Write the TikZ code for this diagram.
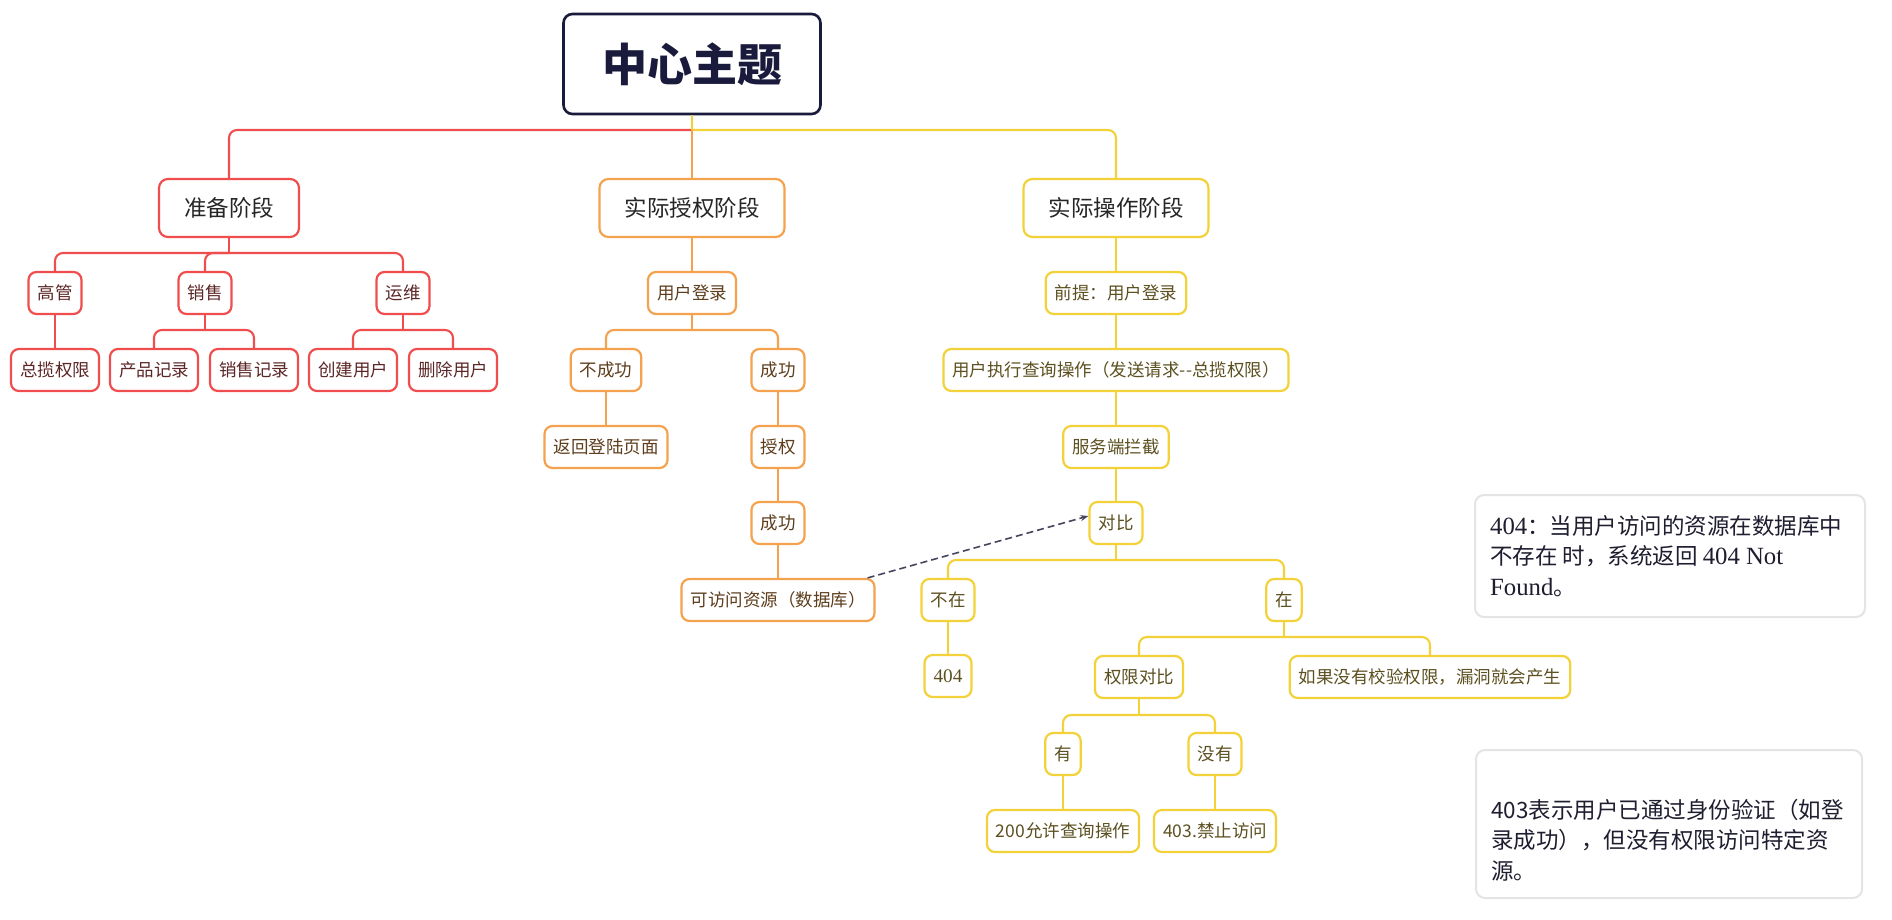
\documentclass[tikz,border=0pt]{standalone}
\usepackage{fontspec}
\setmainfont{Noto Sans CJK SC}
\newfontfamily\ser{Liberation Serif}[Scale=1.1]
\usetikzlibrary{arrows.meta}
\definecolor{cR}{HTML}{F04E4E}
\definecolor{cO}{HTML}{F5A24F}
\definecolor{cY}{HTML}{F2D238}
\definecolor{tR}{HTML}{5C2626}
\definecolor{tO}{HTML}{5E3D1C}
\definecolor{tY}{HTML}{5C5020}
\definecolor{navy}{HTML}{1A1A3C}
\definecolor{nb}{HTML}{E4E4E4}
\definecolor{nt}{HTML}{1E1E30}
\definecolor{dashcol}{HTML}{45455E}
\begin{document}
\begin{tikzpicture}[x=1pt,y=-1pt,
  every node/.style={font=\fontsize{17.5}{21}\selectfont},
  box/.style={draw, rounded corners=8pt, line width=2.2pt, fill=white, minimum height=42pt, inner xsep=9pt, inner ysep=0pt},
  rb/.style={box, draw=cR, text=tR},
  ob/.style={box, draw=cO, text=tO},
  yb/.style={box, draw=cY, text=tY},
  stage/.style={draw, rounded corners=9pt, line width=2.2pt, fill=white, minimum height=58pt, inner xsep=25pt, inner ysep=0pt, font=\fontsize{22.5}{26}\selectfont, text=black!85},
  ln/.style={line width=2.1pt, rounded corners=8pt},
  notebox/.style={draw=nb, line width=2pt, rounded corners=9pt, fill=white},
  notetext/.style={anchor=west, align=left, text=nt, font=\fontsize{22.5}{30.5}\selectfont, inner sep=0pt},
]
\useasboundingbox (0,0) rectangle (1892,920);

% ---------- nodes ----------
\node[draw=navy, line width=2.6pt, rounded corners=9pt, minimum width=257pt, minimum height=100pt, fill=white, text=navy, font=\fontsize{45}{50}\selectfont\bfseries] (c) at (692,64) {中心主题};

\node[stage, draw=cR] (prep) at (229,208) {准备阶段};
\node[stage, draw=cO] (auth) at (692,208) {实际授权阶段};
\node[stage, draw=cY] (oper) at (1116,208) {实际操作阶段};

% red branch
\node[rb] (gg) at (55,293) {高管};
\node[rb] (xs) at (205,293) {销售};
\node[rb] (yw) at (403,293) {运维};
\node[rb] (zl) at (55,370) {总揽权限};
\node[rb] (cp) at (154,370) {产品记录};
\node[rb] (xj) at (254,370) {销售记录};
\node[rb] (cj) at (353,370) {创建用户};
\node[rb] (sc) at (453,370) {删除用户};

% orange branch
\node[ob] (dl) at (692,293) {用户登录};
\node[ob] (bcg) at (606,370) {不成功};
\node[ob] (cg) at (778,370) {成功};
\node[ob] (fh) at (606,447) {返回登陆页面};
\node[ob] (sq) at (778,447) {授权};
\node[ob] (cg2) at (778,523) {成功};
\node[ob] (db) at (778,600) {可访问资源（数据库）};

% yellow branch
\node[yb] (qt) at (1116,293) {前提：用户登录};
\node[yb] (zx) at (1116,370) {用户执行查询操作（发送请求-{}-总揽权限）};
\node[yb] (lj) at (1116,447) {服务端拦截};
\node[yb] (db2) at (1116,523) {对比};
\node[yb] (bz) at (948,600) {不在};
\node[yb] (zz) at (1284,600) {在};
\node[yb] (n404) at (948,676) {\ser 404};
\node[yb] (qx) at (1139,677) {权限对比};
\node[yb] (rg) at (1430,677) {如果没有校验权限，漏洞就会产生};
\node[yb] (you) at (1063,754) {有};
\node[yb] (my) at (1215,754) {没有};
\node[yb] (ok) at (1063,831) {200允许查询操作};
\node[yb] (jz) at (1215,831) {403.禁止访问};

% ---------- connectors ----------
\coordinate (b0) at (692,130);
\coordinate (bR) at (229,253);
\coordinate (bXS) at (205,330);
\coordinate (bYW) at (403,330);
\coordinate (bO) at (692,330);
\coordinate (bY1) at (1116,560);
\coordinate (bY2) at (1284,637);
\coordinate (bY3) at (1139,715);

\draw[ln, cR] (b0) -| (prep);
\draw[ln, cY] (b0) -| (oper);
\draw[ln, cO] (b0) -- (auth);
\draw[ln, cY] (c) -- (b0);

\draw[ln, cR] (prep) -- (bR);
\draw[ln, cR] (bR) -| (gg);
\draw[ln, cR] (bR) -| (xs);
\draw[ln, cR] (bR) -| (yw);
\draw[ln, cR] (gg) -- (zl);
\draw[ln, cR] (xs) -- (bXS);
\draw[ln, cR] (bXS) -| (cp);
\draw[ln, cR] (bXS) -| (xj);
\draw[ln, cR] (yw) -- (bYW);
\draw[ln, cR] (bYW) -| (cj);
\draw[ln, cR] (bYW) -| (sc);

\draw[ln, cO] (auth) -- (dl);
\draw[ln, cO] (dl) -- (bO);
\draw[ln, cO] (bO) -| (bcg);
\draw[ln, cO] (bO) -| (cg);
\draw[ln, cO] (bcg) -- (fh);
\draw[ln, cO] (cg) -- (sq);
\draw[ln, cO] (sq) -- (cg2);
\draw[ln, cO] (cg2) -- (db);

\draw[ln, cY] (oper) -- (qt);
\draw[ln, cY] (qt) -- (zx);
\draw[ln, cY] (zx) -- (lj);
\draw[ln, cY] (lj) -- (db2);
\draw[ln, cY] (db2) -- (bY1);
\draw[ln, cY] (bY1) -| (bz);
\draw[ln, cY] (bY1) -| (zz);
\draw[ln, cY] (bz) -- (n404);
\draw[ln, cY] (zz) -- (bY2);
\draw[ln, cY] (bY2) -| (qx);
\draw[ln, cY] (bY2) -| (rg);
\draw[ln, cY] (qx) -- (bY3);
\draw[ln, cY] (bY3) -| (you);
\draw[ln, cY] (bY3) -| (my);
\draw[ln, cY] (you) -- (ok);
\draw[ln, cY] (my) -- (jz);

% dashed relation
\draw[dashcol, line width=1.6pt, dash pattern=on 7pt off 4pt, -{Stealth[length=8pt,width=6pt]}]
  ([xshift=-8pt]db.north east) -- ([yshift=7pt]db2.west);

% ---------- notes ----------
\node[notebox, minimum width=390pt, minimum height=122pt] (note1) at (1670,556) {};
\node[notetext] (note1t) at (1490,556) {{\ser 404}：当用户访问的资源在数据库中\\不存在 时，系统返回 {\ser 404 Not}\\{\ser Found}。};
\node[notebox, minimum width=386pt, minimum height=148pt] (note2) at (1669,824) {};
\node[notetext] (note2t) at (1491,840) {403表示用户已通过身份验证（如登\\录成功），但没有权限访问特定资\\源。};
\end{tikzpicture}
\end{document}
